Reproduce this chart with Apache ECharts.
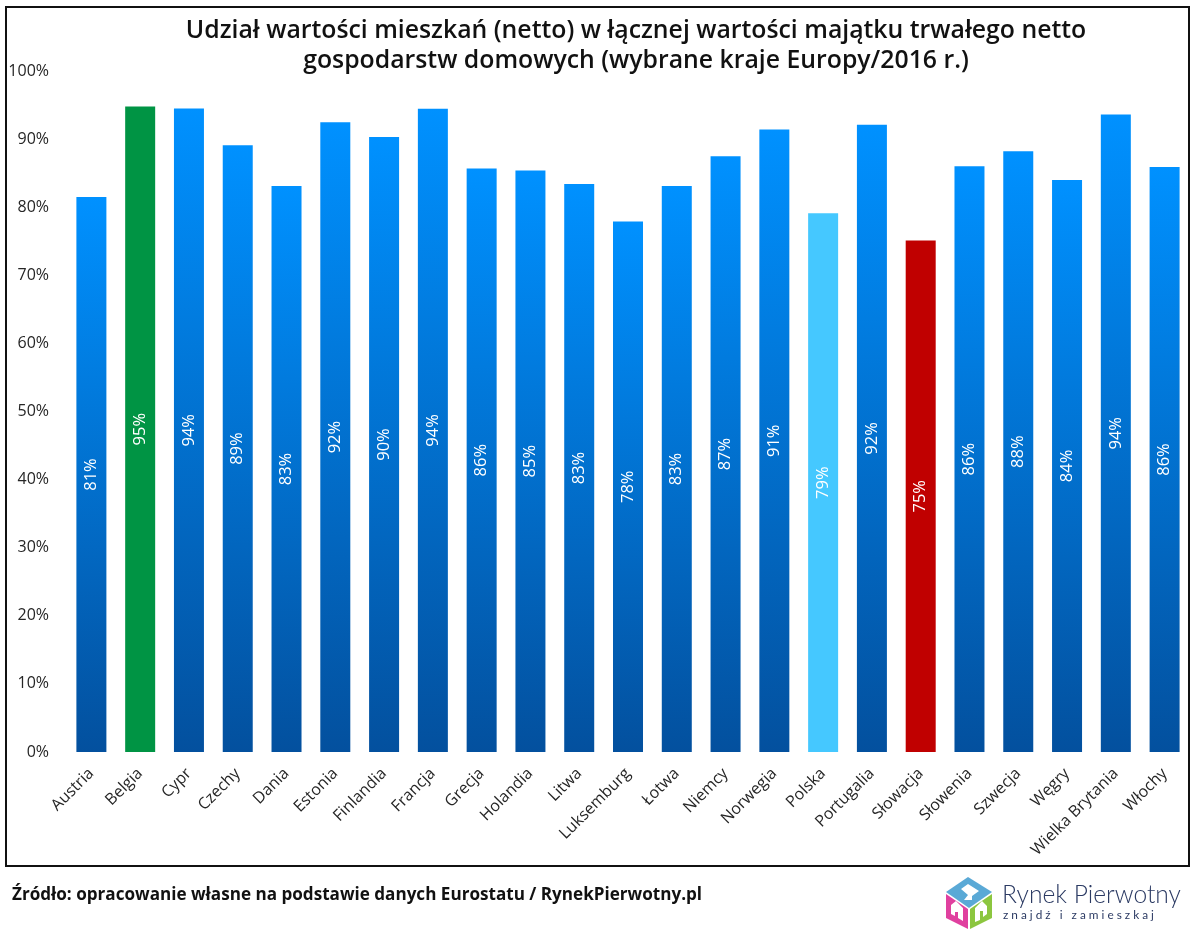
<!DOCTYPE html>
<html>
<head>
<meta charset="utf-8">
<title>Udział wartości mieszkań</title>
<script src="https://cdn.jsdelivr.net/npm/echarts@6/dist/echarts.min.js"></script>
<style>
  html, body { margin: 0; padding: 0; background: #fff; }
  #chart { width: 1200px; height: 937px; }
</style>
</head>
<body>
<div id="chart"></div>
<script>
const categories = ["Austria", "Belgia", "Cypr", "Czechy", "Dania", "Estonia", "Finlandia", "Francja",
  "Grecja", "Holandia", "Litwa", "Luksemburg", "Łotwa", "Niemcy", "Norwegia", "Polska", "Portugalia",
  "Słowacja", "Słowenia", "Szwecja", "Węgry", "Wielka Brytania", "Włochy"];
const values = [81.49, 94.8, 94.49, 89.1, 83.1, 92.49, 90.3, 94.45, 85.7, 85.4, 83.4, 77.9, 83.1, 87.49, 91.4, 79.1,
  92.1, 75.1, 86, 88.2, 84, 93.6, 85.9];
const yTicks = [0, 10, 20, 30, 40, 50, 60, 70, 80, 90, 100];

const fontName = "Open Sans";
const highlight = { "Belgia": "#009444", "Polska": "#45c8ff", "Słowacja": "#c00000" };
const blueBar = {
  type: "linear", x: 0, y: 0, x2: 0, y2: 1,
  colorStops: [{ offset: 0, color: "#0091ff" }, { offset: 1, color: "#03509e" }]
};

const myChart = echarts.init(document.getElementById("chart"));

const option = {
  animation: false,
  backgroundColor: "#fff",
  grid: { left: 67, right: 11, top: 71, bottom: 185 },
  xAxis: {
    type: "category",
    data: categories,
    axisLine: { show: false },
    axisTick: { show: false },
    axisLabel: {
      interval: 0, rotate: 45, margin: 19,
      fontFamily: fontName, fontSize: 16, color: "#262626"
    }
  },
  yAxis: {
    type: "value",
    min: 0,
    max: 100,
    interval: 10,
    splitLine: { show: false },
    axisLine: { show: false },
    axisTick: { show: false },
    axisLabel: {
      margin: 18,
      padding: [2, 0, 0, 0],
      fontFamily: fontName, fontSize: 16, color: "#262626",
      formatter: v => yTicks.includes(v) ? v + "%" : ""
    }
  },
  series: [{
    type: "bar",
    barWidth: 30,
    data: values.map((v, i) => ({
      value: v,
      itemStyle: { color: highlight[categories[i]] || blueBar }
    })),
    label: {
      show: true,
      position: "inside",
      rotate: 90,
      fontFamily: fontName,
      fontSize: 16.5,
      fontWeight: 500,
      color: "#fff",
      formatter: p => Math.round(p.value) + "%"
    }
  }],
  graphic: [
    // ramka
    { type: "rect", shape: { x: 6, y: 7, width: 1183, height: 859 }, style: { fill: "none", stroke: "#111", lineWidth: 2 }, z: 10 },
    // tytuł
    { type: "text", x: 636, y: 31, style: { text: "Udział wartości mieszkań (netto) w łącznej wartości majątku trwałego netto", fontFamily: fontName, fontSize: 24.8, fontWeight: 600, fill: "#111", align: "center", verticalAlign: "middle" } },
    { type: "text", x: 636, y: 61, style: { text: "gospodarstw domowych (wybrane kraje Europy/2016 r.)", fontFamily: fontName, fontSize: 24.8, fontWeight: 600, fill: "#111", align: "center", verticalAlign: "middle" } },
    // źródło
    { type: "text", x: 12, y: 895, style: { text: "Źródło: opracowanie własne na podstawie danych Eurostatu / RynekPierwotny.pl", fontFamily: fontName, fontSize: 17.1, fontWeight: 700, fill: "#111", verticalAlign: "middle" } },
    // logo
    { type: "polygon", shape: { points: [[968, 877], [992, 892], [969, 908], [946, 892]] }, style: { fill: "#5aa9d6" } },
    { type: "polygon", shape: { points: [[946, 894], [968, 909], [968, 929], [946, 918]] }, style: { fill: "#e0409f" } },
    { type: "polygon", shape: { points: [[970, 909], [992, 894], [992, 918], [970, 929]] }, style: { fill: "#8cc63f" } },
    { type: "polygon", shape: { points: [[968, 884], [979, 891], [972, 896], [972, 900], [964, 900], [968, 895], [961, 889]] }, style: { fill: "#fff" } },
    { type: "polygon", shape: { points: [[956, 901], [963, 908], [963, 921], [958, 918], [958, 912], [955, 912], [955, 916], [951, 914], [951, 905]] }, style: { fill: "#fff" } },
    { type: "polygon", shape: { points: [[982, 901], [987, 906], [987, 914], [983, 917], [983, 911], [980, 911], [980, 920], [975, 922], [975, 908]] }, style: { fill: "#fff" } },
    { type: "text", x: 1002, y: 895, style: { text: "Rynek Pierwotny", fontFamily: "Lato", fontSize: 24.6, fontWeight: 300, fill: "#2b3a63", verticalAlign: "middle" } },
    { type: "text", x: 1003, y: 915, style: { text: "z n a j d ź   i   z a m i e s z k a j", fontFamily: "Lato", fontSize: 11.8, fill: "#2b3a63", verticalAlign: "middle" } }
  ]
};

myChart.setOption(option);
</script>
</body>
</html>
